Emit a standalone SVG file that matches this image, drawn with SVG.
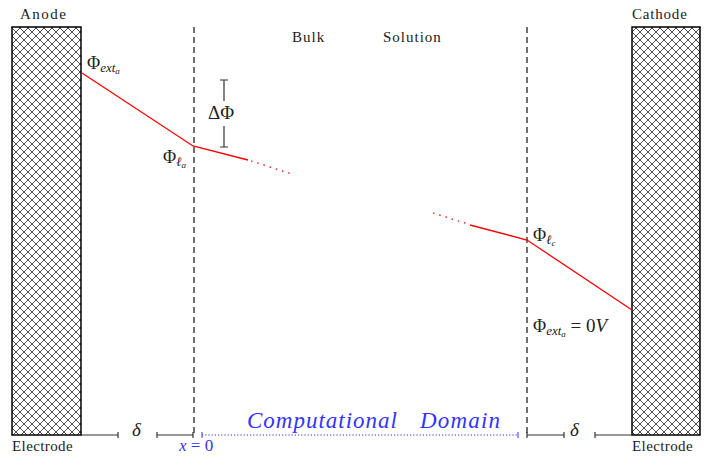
<svg xmlns="http://www.w3.org/2000/svg" width="707" height="458" viewBox="0 0 707 458" font-family="Tinos, 'Times New Roman', 'Liberation Serif', serif">
<defs>
<pattern id="hatch" patternUnits="userSpaceOnUse" width="8" height="8">
<path d="M0,0 L8,8 M8,0 L0,8" stroke="#000" stroke-width="0.7"/>
</pattern>
</defs>
<g id="anode">
<rect x="12" y="27" width="69" height="408" fill="url(#hatch)" stroke="#000" stroke-width="1.5"/>
<text font-family="Times New Roman, serif" font-size="15" fill="#222" x="20" y="19" letter-spacing="1.5">Anode</text>
<text font-family="Times New Roman, serif" font-size="15" fill="#222" x="12" y="451" letter-spacing="0.4">Electrode</text>
</g>
<g id="cathode">
<rect x="632" y="27" width="68" height="408" fill="url(#hatch)" stroke="#000" stroke-width="1.5"/>
<text font-family="Times New Roman, serif" font-size="15" fill="#222" x="632" y="19" letter-spacing="0.8">Cathode</text>
<text font-family="Times New Roman, serif" font-size="15" fill="#222" x="632" y="451" letter-spacing="0.4">Electrode</text>
</g>
<g id="bulk">
<text font-family="Times New Roman, serif" font-size="15" fill="#222" x="292" y="42" letter-spacing="1">Bulk</text>
<text font-family="Times New Roman, serif" font-size="15" fill="#222" x="383" y="42" letter-spacing="1">Solution</text>
</g>
<g id="connectors" fill="none">
<line stroke="#333" stroke-width="1.4" stroke-dasharray="6 4" x1="194" y1="27" x2="194" y2="435"/>
<line stroke="#333" stroke-width="1.4" stroke-dasharray="6 4" x1="527" y1="27" x2="527" y2="435"/>
<polyline stroke="#ff0000" stroke-width="1.3" points="82,73 193,146 248,160"/>
<line stroke="#ff0000" stroke-width="1.3" stroke-dasharray="1.5 5" x1="251" y1="161" x2="292" y2="174"/>
<line stroke="#ff0000" stroke-width="1.3" stroke-dasharray="1.5 5" x1="433" y1="213" x2="468" y2="224"/>
<polyline stroke="#ff0000" stroke-width="1.3" points="470,225 527,240 632,310"/>
<path stroke="#333" stroke-width="1.2" d="M224,80 V101 M220,80 H228 M224,126 V147 M220,147 H228"/>
<path stroke="#333" stroke-width="1.2" d="M81,435 H118 M118,432 V438 M157,435 H193 M157,432 V438 M193,432 V438"/>
<path stroke="#333" stroke-width="1.2" d="M527,435 H564 M527,432 V438 M564,432 V438 M595,435 H632 M595,432 V438"/>
<path d="M202,435 H518" stroke="#3333ff" stroke-width="1.2" stroke-dasharray="1.2 2"/>
<path d="M202,432 V438 M518,432 V438" stroke="#3333ff" stroke-width="1"/>
</g>
<g id="labels">
<text font-family="Times New Roman, serif" fill="#222" x="87" y="69" font-size="18">Φ<tspan font-style="italic" font-size="13" dy="3">ext</tspan><tspan font-style="italic" font-size="9" dy="2">a</tspan></text>
<text font-family="Times New Roman, serif" fill="#222" x="208" y="119" font-size="19">ΔΦ</text>
<text font-family="Times New Roman, serif" fill="#222" x="163" y="163" font-size="18">Φ<tspan font-style="italic" font-size="13" dy="3">ℓ</tspan><tspan font-style="italic" font-size="9" dy="2">a</tspan></text>
<text font-family="Times New Roman, serif" fill="#222" x="533" y="241" font-size="18">Φ<tspan font-style="italic" font-size="13" dy="3">ℓ</tspan><tspan font-style="italic" font-size="9" dy="2">c</tspan></text>
<text font-family="Times New Roman, serif" fill="#222" x="533" y="332" font-size="18">Φ<tspan font-style="italic" font-size="13" dy="3">ext</tspan><tspan font-style="italic" font-size="9" dy="2">a</tspan><tspan dy="-5" font-size="19"> = 0</tspan><tspan font-style="italic" font-size="19">V</tspan></text>
<text font-family="Times New Roman, serif" fill="#222" font-style="italic" x="132" y="436" font-size="19">δ</text>
<text font-family="Times New Roman, serif" fill="#222" font-style="italic" x="570" y="436" font-size="19">δ</text>
<text font-family="Times New Roman, serif" fill="#3333ff" x="179" y="451" font-size="17"><tspan font-style="italic">x</tspan> = 0</text>
<text font-family="Times New Roman, serif" fill="#3333ff" font-style="italic" x="247" y="428" font-size="23" textLength="150">Computational</text>
<text font-family="Times New Roman, serif" fill="#3333ff" font-style="italic" x="420" y="428" font-size="23" textLength="80">Domain</text>
</g>
</svg>
